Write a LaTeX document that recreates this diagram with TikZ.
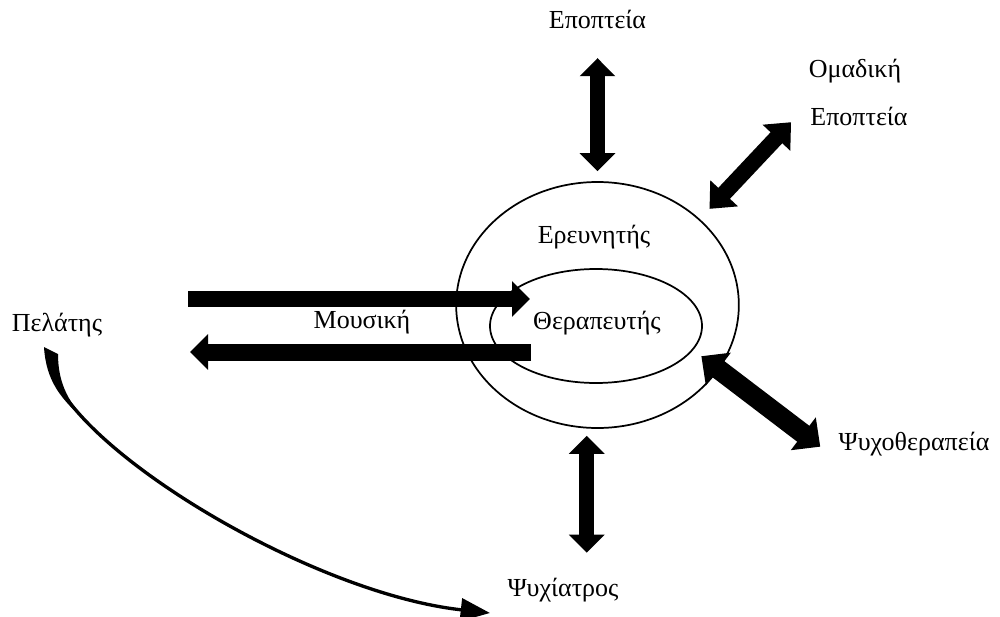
\documentclass[tikz,border=0pt]{standalone}
\usepackage{fontspec}
\setmainfont{Liberation Serif}
\usetikzlibrary{arrows.meta,shapes.geometric}

\begin{document}
\begin{tikzpicture}[x=0.75pt,y=-0.75pt,
    font=\fontsize{19.5}{23}\selectfont,
    lbl/.style={anchor=base,inner sep=2pt},
    ring/.style={draw,ellipse,line width=1.3pt,inner sep=0pt},
    fat/.style={line width=11.5pt,>={Triangle[length=13.5pt,width=26pt]}}]
    \useasboundingbox (0,0) rectangle (1000,617);

    \node[ring,minimum width=212pt,minimum height=184.5pt] (outer) at (597.5,305) {};
    \node[ring,minimum width=159pt,minimum height=85.5pt] (inner) at (596,326) {};

    \node[lbl] (epopteia) at (597.5,29) {Εποπτεία};
    \node[lbl] (omadiki) at (855,78) {Ομαδική};
    \node[lbl] (epopteia2) at (859,126) {Εποπτεία};
    \node[lbl] (erevnitis) at (594,243) {Ερευνητής};
    \node[lbl] (therapeftis) at (597,329) {Θεραπευτής};
    \node[lbl] (mousiki) at (362,328) {Μουσική};
    \node[lbl] (pelatis) at (57,331) {Πελάτης};
    \node[lbl] (psychother) at (914,450) {Ψυχοθεραπεία};
    \node[lbl] (psychiatros) at (563,596) {Ψυχίατρος};

    \coordinate (musA) at (188,299);
    \coordinate (musB) at (530,299);
    \coordinate (musC) at (531,352);
    \coordinate (musD) at (190,352);
    \coordinate (cstart) at (48,350);
    \coordinate (cend) at (490,613);

    \draw[fat,<->,shorten <=19.5pt,shorten >=7.5pt] (epopteia.south) -- (outer.north);
    \draw[fat,<->,line width=12pt,>={Triangle[length=16pt,width=27.5pt]},
        shorten <=18pt,shorten >=10.5pt] (epopteia2.north west) -- (outer.40.3);
    \draw[fat,<->,line width=15pt,>={Triangle[length=16pt,width=30pt]},
        shorten <=14.6pt,shorten >=-16.5pt] (psychother.south west) -- (outer.-28.5);
    \draw[fat,<->,shorten <=5.5pt,shorten >=16.5pt] (outer.-95) -- (outer.-95 |- psychiatros.north);

    \draw[fat,->] (musA) -- (musB);
    \draw[fat,->,line width=12.75pt] (musC) -- (musD);

    \fill (44,347) -- (58,354) .. controls (58,385) and (70,405) .. (90,424)
        .. controls (60,400) and (46,380) .. (44,347) -- cycle;
    \draw[line width=2.5pt,-{Triangle[length=22pt,width=17pt]}] (cstart) .. controls (40,430) and (300,592) .. (cend);

\end{tikzpicture}
\end{document}
